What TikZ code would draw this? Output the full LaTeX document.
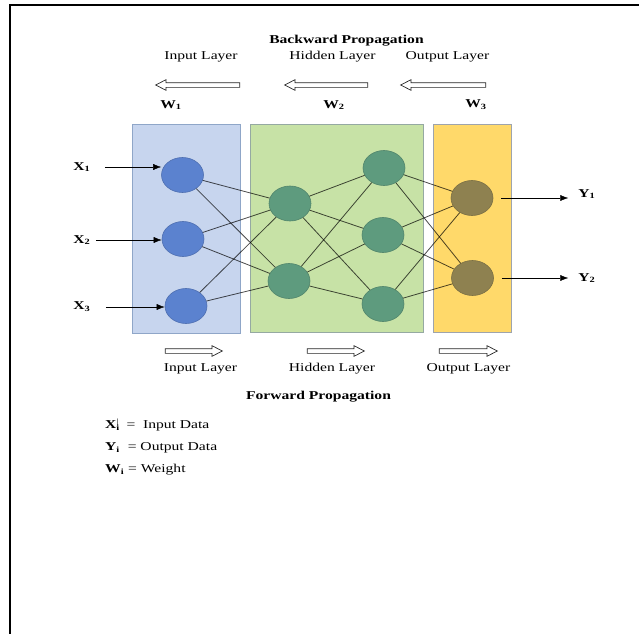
\documentclass[tikz,border=0pt]{standalone}
\usepackage{fontspec}
\setmainfont{Liberation Serif}
\usetikzlibrary{arrows.meta,calc,shapes.geometric,shapes.arrows}

\definecolor{inbox}{HTML}{C7D5EE}
\definecolor{inboxline}{HTML}{8FA6C8}
\definecolor{hidbox}{HTML}{C7E2A6}
\definecolor{hidboxline}{HTML}{95A9A2}
\definecolor{outbox}{HTML}{FFD96A}
\definecolor{outboxline}{HTML}{9EA4AC}
\definecolor{inneuron}{HTML}{5B82CF}
\definecolor{hidneuron}{HTML}{5E9B7E}
\definecolor{outneuron}{HTML}{8E8150}

\newcommand{\wtxt}[1]{\scalebox{1.3}[1]{#1}}

\begin{document}
\begin{tikzpicture}[x=1pt, y=-1pt, >={Latex[length=8pt, width=6pt]},
    neuron/.style={ellipse, draw=#1!85!black, fill=#1, line width=0.6pt,
        minimum width=42pt, minimum height=35pt, inner sep=0pt},
    lbl/.style={font=\fontsize{12}{14}\selectfont, inner sep=0pt},
    link/.style={draw=black, draw opacity=0.7, line width=0.8pt},
    hollow/.style={single arrow, draw=black!85, fill=white, line width=0.7pt,
        inner sep=2pt, single arrow head extend=3pt,
        single arrow tip angle=55, minimum height=#1}]
                \useasboundingbox (0,0) rectangle (639,634);

                % the frame
                \draw[line width=1.6pt] (639,5) -- (10,5) -- (10,634);

                % the layer boxes
                \draw[draw=inboxline, fill=inbox, line width=0.8pt] (132,124) rectangle (240,333);
                \draw[draw=hidboxline, fill=hidbox, line width=0.8pt] (250,124) rectangle (423,332);
                \draw[draw=outboxline, fill=outbox, line width=0.8pt] (433,124) rectangle (511,332);

                % neurons
                \node[neuron=inneuron] (i1) at (182.5,175) {};
                \node[neuron=inneuron] (i2) at (183,239) {};
                \node[neuron=inneuron] (i3) at (186,306) {};
                \node[neuron=hidneuron] (h1) at (290,203.5) {};
                \node[neuron=hidneuron] (h2) at (289,281) {};
                \node[neuron=hidneuron] (g1) at (384,168) {};
                \node[neuron=hidneuron] (g2) at (383,235) {};
                \node[neuron=hidneuron] (g3) at (383,304) {};
                \node[neuron=outneuron] (o1) at (472,198) {};
                \node[neuron=outneuron] (o2) at (472.5,278) {};

                % links
                \foreach \a in {i1,i2,i3}
                    \foreach \b in {h1,h2}
                        \draw[link] (\a) -- (\b);
                \foreach \a in {h1,h2}
                    \foreach \b in {g1,g2,g3}
                        \draw[link] (\a) -- (\b);
                \foreach \a in {g1,g2,g3}
                    \foreach \b in {o1,o2}
                        \draw[link] (\a) -- (\b);

                % inputs and outputs
                \node[lbl] (x1) at (82,167) {\wtxt{\textbf{X\textsubscript{1}}}};
                \node[lbl] (x2) at (82,240) {\wtxt{\textbf{X\textsubscript{2}}}};
                \node[lbl] (x3) at (82,307) {\wtxt{\textbf{X\textsubscript{3}}}};
                \draw[->] ([xshift=14pt]x1.east) -- (x1 -| i1.west);
                \draw[->] ([xshift=5pt]x2.east) -- (x2 -| i2.west);
                \draw[->] ([xshift=15pt]x3.east) -- (x3 -| i3.west);

                \node[lbl] (y1) at (587,194) {\wtxt{\textbf{Y\textsubscript{1}}}};
                \node[lbl] (y2) at (587,278) {\wtxt{\textbf{Y\textsubscript{2}}}};
                \draw[->] ([xshift=8pt]o1.east) -- ($(o1.east -| y1.west)+(-10,0)$);
                \draw[->] ([xshift=8pt]o2.east) -- ($(o2.east -| y2.west)+(-10,0)$);

                % backward propagation
                \node[lbl] (back) at (346.5,41) {\wtxt{\textbf{Backward Propagation}}};
                \node[lbl] (binl) at (201,57) {\wtxt{Input Layer}};
                \node[lbl] (bhid) at (332.5,57) {\wtxt{Hidden Layer}};
                \node[lbl] (bout) at (447.5,57) {\wtxt{Output Layer}};
                \node[hollow=84pt, shape border rotate=180] (barr1) at (200,85) {};
                \node[hollow=83pt, shape border rotate=180] (barr2) at (328.5,85) {};
                \node[hollow=85pt, shape border rotate=180] (barr3) at (445.5,85) {};
                \node[lbl] (w1) at (171,105) {\wtxt{\textbf{W\textsubscript{1}}}};
                \node[lbl] (w2) at (334,105) {\wtxt{\textbf{W\textsubscript{2}}}};
                \node[lbl] (w3) at (476,105) {\wtxt{\textbf{W\textsubscript{3}}}};

                % forward propagation
                \node[hollow=57pt] (farr1) at (191.5,351) {};
                \node[hollow=57pt] (farr2) at (333.5,351) {};
                \node[hollow=58pt] (farr3) at (466,351) {};
                \node[lbl] (finl) at (200.5,369) {\wtxt{Input Layer}};
                \node[lbl] (fhid) at (332,369) {\wtxt{Hidden Layer}};
                \node[lbl] (fout) at (468.5,369) {\wtxt{Output Layer}};
                \node[lbl] (fwd) at (318.5,397) {\wtxt{\textbf{Forward Propagation}}};

                % legend
                \node[lbl, anchor=west] (kx) at (105,425)
                    {\wtxt{\textbf{X\rlap{\textsuperscript{\textmd{|}}}\textsubscript{i}} \,=\ \ Input Data}};
                \node[lbl, anchor=west] (ky) at (105,448)
                    {\wtxt{\textbf{Y\textsubscript{i}} \ = Output Data}};
                \node[lbl, anchor=west] (kw) at (105,470)
                    {\wtxt{\textbf{W\textsubscript{i}} = Weight}};
            \end{tikzpicture}
\end{document}
